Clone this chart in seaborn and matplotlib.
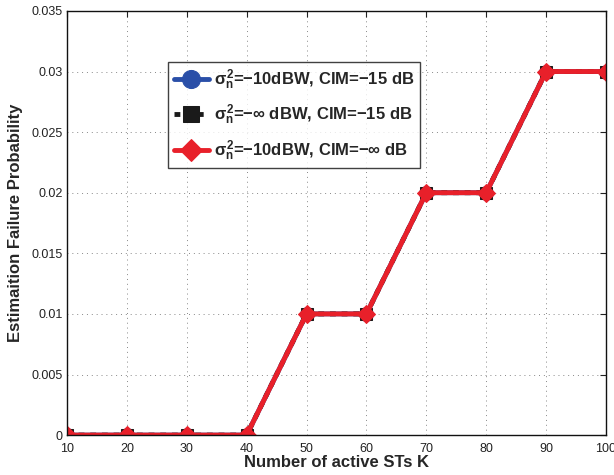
import matplotlib
matplotlib.use("Agg")
import matplotlib.pyplot as plt
import seaborn as sns

# data
k_values = [10, 20, 30, 40, 50, 60, 70, 80, 90, 100]
p_noise_cim = [0, 0, 0, 0, 0.01, 0.01, 0.02, 0.02, 0.03, 0.03]
p_nonoise_cim = [0, 0, 0, 0, 0.01, 0.01, 0.02, 0.02, 0.03, 0.03]
p_noise_nocim = [0, 0, 0, 0, 0.01, 0.01, 0.02, 0.02, 0.03, 0.03]
y_ticks = [0, 0.005, 0.01, 0.015, 0.02, 0.025, 0.03, 0.035]
y_tick_labels = ["0", "0.005", "0.01", "0.015", "0.02", "0.025", "0.03", "0.035"]

sns.set_style("white")
plt.rcParams['font.family'] = ['Liberation Sans', 'DejaVu Sans']
plt.rcParams['mathtext.fontset'] = 'custom'
plt.rcParams['mathtext.rm'] = 'Liberation Sans:bold'
plt.rcParams['mathtext.it'] = 'Liberation Sans:bold'
plt.rcParams['mathtext.bf'] = 'Liberation Sans:bold'

fig = plt.figure(figsize=(6.14, 4.75), dpi=100)
ax = fig.add_axes([0.109, 0.084, 0.878, 0.893])

sns.lineplot(x=k_values, y=p_noise_cim, ax=ax, color='#2a4fa8', lw=3.5,
             marker='o', markersize=10, markeredgecolor='#2a4fa8',
             label=r'$\sigma_{\mathbf{n}}^{\mathbf{2}}$=−10dBW, CIM=−15 dB')
sns.lineplot(x=k_values, y=p_nonoise_cim, ax=ax, color='#1a1a1a', lw=3.5,
             linestyle=(0, (1.2, 1.2)), marker='s', markersize=9,
             markeredgecolor='#1a1a1a',
             label=r'$\sigma_{\mathbf{n}}^{\mathbf{2}}$=−∞ dBW, CIM=−15 dB')
sns.lineplot(x=k_values, y=p_noise_nocim, ax=ax, color='#e8202a', lw=3.5,
             marker='D', markersize=9, markeredgecolor='#e8202a',
             label=r'$\sigma_{\mathbf{n}}^{\mathbf{2}}$=−10dBW, CIM=−∞ dB')

ax.set_xlim(10, 100)
ax.set_ylim(0, 0.035)
ax.set_xticks(k_values)
ax.set_yticks(y_ticks)
ax.set_yticklabels(y_tick_labels)
ax.tick_params(direction='in', length=4, labelsize=9, colors='#222222',
               top=True, right=True, pad=3)
ax.tick_params(axis='x', pad=6)
ax.grid(True, linestyle=(0, (1, 4)), color='#888888', lw=0.7)
for sp in ax.spines.values():
    sp.set_color('#111111')
    sp.set_linewidth(1.0)

ax.set_xlabel("Number of active STs K", fontsize=12, fontweight='bold', labelpad=0)
ax.set_ylabel("Estimaition Failure Probability", fontsize=12, fontweight='bold', labelpad=6)

leg = ax.legend(loc='upper left', bbox_to_anchor=(0.187, 0.88), borderaxespad=0,
                frameon=True, fancybox=False, edgecolor='#111111',
                handlelength=2.1, handletextpad=0.3, borderpad=0.35,
                labelspacing=0.65, markerscale=1.3,
                prop={'weight': 'bold', 'size': 12})
leg.get_frame().set_linewidth(1.0)

fig.savefig("out.png", dpi=100)
